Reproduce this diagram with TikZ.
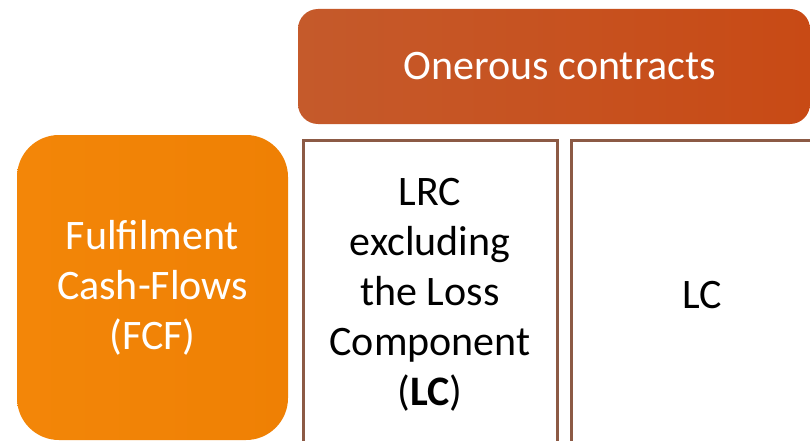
\documentclass[tikz,border=0pt]{standalone}
\usepackage{fontspec}
\setmainfont{Carlito}
\definecolor{bannerL}{HTML}{C55A2B}
\definecolor{bannerR}{HTML}{C84A15}
\definecolor{fcfL}{HTML}{F38608}
\definecolor{fcfR}{HTML}{EF8004}
\definecolor{cellline}{HTML}{8C5A45}
\tikzset{
  bigtext/.style={font=\fontsize{42}{50}\selectfont, align=center, inner sep=0pt},
  banner/.style={bigtext, text=white, shade, left color=bannerL, right color=bannerR,
    rounded corners=20pt, minimum width=512pt, minimum height=115pt},
  fcfbox/.style={bigtext, text=white, shade, left color=fcfL, right color=fcfR,
    rounded corners=42pt, minimum width=271pt, minimum height=305pt},
  cell/.style={bigtext, text=black, draw=cellline, line width=3pt, fill=white,
    minimum height=310pt}
}
\begin{document}
\begin{tikzpicture}[x=1pt, y=-1pt]
  \useasboundingbox (0,0) rectangle (810,441);
  \clip (0,0) rectangle (810,441);
  \fill[white] (0,0) rectangle (810,441);
  % header spanning the two component columns
  \node[banner] (oc) at (554,66.5) {\hspace*{12pt}Onerous contracts};
  % fulfilment cash-flows block
  \node[fcfbox] (fcf) at (152.5,287.5) {Fulfilment\\Cash-Flows\\(FCF)};
  % liability columns
  \node[cell, minimum width=254pt] (lrc) at (430,295)
    {LRC\\excluding\\the Loss\\Component\\(\textbf{LC})};
  \node[cell, minimum width=262pt] (lc) at (702,295) {LC};
\end{tikzpicture}
\end{document}
